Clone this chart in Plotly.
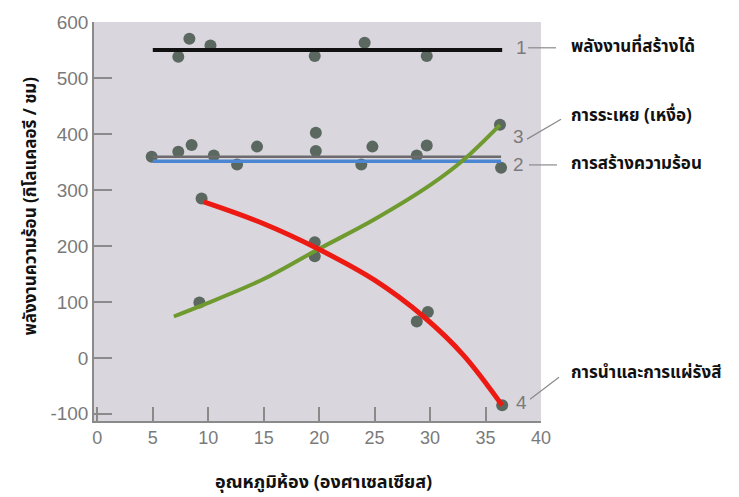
import plotly.graph_objects as go

# Room temperature (deg C) and heat energy (kcal / h)
produced_x = [5.0, 36.5]
produced_y = [551, 551]

total_loss_x = [5.0, 36.4]
total_loss_y = [360, 360]

heat_prod_x = [5.0, 36.4]
heat_prod_y = [352, 352]

evap_x = [6.9, 9.2, 15.0, 19.8, 25.0, 30.0, 33.0, 36.3]
evap_y = [74, 92, 141, 193, 248, 309, 354, 417]

cond_x = [9.6, 15.0, 19.8, 25.0, 29.4, 33.0, 36.5]
cond_y = [279, 240, 196, 139, 74, 5, -85]

# Measured points
obs_produced_x = [7.3, 8.3, 10.2, 19.6, 24.1, 29.7]
obs_produced_y = [539, 571, 559, 540, 564, 540]
obs_heat_x = [4.9, 7.3, 8.5, 10.5, 12.6, 14.4, 19.7, 19.7, 23.8, 24.8, 28.8, 29.7, 36.4]
obs_heat_y = [360, 369, 381, 362, 346, 378, 403, 370, 346, 378, 362, 380, 340]
obs_evap_x = [9.2, 19.6, 36.3]
obs_evap_y = [99, 182, 417]
obs_cond_x = [9.4, 19.6, 28.8, 29.8, 36.5]
obs_cond_y = [285, 207, 65, 82, -85]

x_ticks = [0, 5, 10, 15, 20, 25, 30, 35, 40]
y_ticks = [-100, 0, 100, 200, 300, 400, 500, 600]
y_tick_text = ["-100", "0", "100", "200", "300", "400", "500", "600"]

series_labels = ["พลังงานที่สร้างได้", "การระเหย (เหงื่อ)", "การสร้างความร้อน", "การนำและการแผ่รังสี"]
x_title = "อุณหภูมิห้อง (องศาเซลเซียส)"
y_title = "พลังงานความร้อน (กิโลแคลอรี / ชม)"

THAI = "Noto Sans Thai, Loma, Garuda, Tahoma, sans-serif"
NUM = "Liberation Sans, Arial, sans-serif"
DOT = "#5a6860"

fig = go.Figure()

all_obs_x = obs_produced_x + obs_heat_x + obs_evap_x + obs_cond_x
all_obs_y = obs_produced_y + obs_heat_y + obs_evap_y + obs_cond_y
fig.add_trace(go.Scatter(x=all_obs_x, y=all_obs_y, mode="markers",
                         marker=dict(size=12, color=DOT), cliponaxis=False))

fig.add_trace(go.Scatter(x=total_loss_x, y=total_loss_y, mode="lines",
                         line=dict(color="#6d6b6e", width=2.5)))
fig.add_trace(go.Scatter(x=heat_prod_x, y=heat_prod_y, mode="lines",
                         line=dict(color="#4a86d2", width=3.5)))
fig.add_trace(go.Scatter(x=produced_x, y=produced_y, mode="lines",
                         line=dict(color="#111111", width=4)))
fig.add_trace(go.Scatter(x=evap_x, y=evap_y, mode="lines",
                         line=dict(color="#6e9a2f", width=4, shape="spline", smoothing=1.0)))
fig.add_trace(go.Scatter(x=cond_x, y=cond_y, mode="lines",
                         line=dict(color="#ec1a12", width=5, shape="spline", smoothing=1.0)))

# plot area in pixels: left 94, right 541, top 19, bottom 421
L, R, T, B = 94, 541, 19, 421


def px(x):
    return (x - L) / (R - L)


def py(y):
    return (B - y) / (B - T)


# numbered callouts and leader lines
numbers = [("1", 521, 45), ("3", 518, 134), ("2", 518, 163), ("4", 521, 402)]
for txt, nx, ny in numbers:
    fig.add_annotation(x=px(nx), y=py(ny), xref="paper", yref="paper", text=txt,
                       showarrow=False, xanchor="center", yanchor="middle",
                       font=dict(family=NUM, size=19, color="#7a7a7a"))

leaders = [(528, 45, 556, 45), (527, 137, 561, 117), (529, 163, 557, 163), (530, 399, 559, 377)]
for x0, y0, x1, y1 in leaders:
    fig.add_shape(type="line", xref="paper", yref="paper",
                  x0=px(x0), y0=py(y0), x1=px(x1), y1=py(y1),
                  line=dict(color="#8a8a8a", width=1.2))

label_y = [44, 114, 162, 373]
for txt, ly in zip(series_labels, label_y):
    fig.add_annotation(x=px(569), y=py(ly), xref="paper", yref="paper", text="<b>" + txt + "</b>",
                       showarrow=False, xanchor="left", yanchor="middle",
                       font=dict(family=THAI, size=17, color="#111111"))

# axis titles
fig.add_annotation(x=px(323), y=py(483), xref="paper", yref="paper", text="<b>" + x_title + "</b>",
                   showarrow=False, xanchor="center", yanchor="middle",
                   font=dict(family=THAI, size=18, color="#111111"))
fig.add_annotation(x=px(31), y=py(205), xref="paper", yref="paper", text="<b>" + y_title + "</b>",
                   showarrow=False, xanchor="center", yanchor="middle", textangle=-90,
                   font=dict(family=THAI, size=17, color="#111111"))

fig.update_layout(
    width=739, height=497,
    margin=dict(l=L, r=739 - R, t=T, b=497 - B),
    paper_bgcolor="white",
    plot_bgcolor="#dad6dd",
    showlegend=False,
    xaxis=dict(range=[-0.3, 40], tickvals=x_ticks, ticks="inside", ticklen=14,
               tickcolor="#8a8a8a", tickwidth=1.5, showgrid=False, zeroline=False,
               showline=True, linecolor="#8a8a8a", linewidth=1.5,
               tickfont=dict(family=NUM, size=18, color="#7a7a7a")),
    yaxis=dict(range=[-113, 601], tickvals=y_ticks, ticktext=y_tick_text,
               ticks="inside", ticklen=18,
               tickcolor="#8a8a8a", tickwidth=1.5, showgrid=False, zeroline=False,
               showline=True, linecolor="#8a8a8a", linewidth=1.5,
               tickfont=dict(family=NUM, size=19, color="#7a7a7a")),
)

fig.write_html("out.html")
